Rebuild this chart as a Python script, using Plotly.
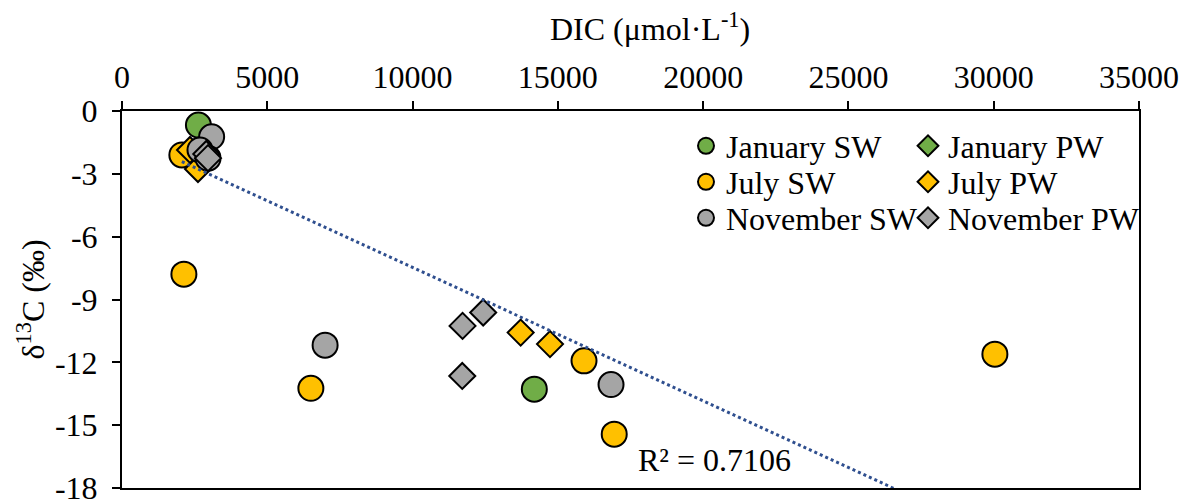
import plotly.graph_objects as go

# ---- data ----
jan_sw_x = [2630, 14190]
jan_sw_y = [-0.67, -13.28]
jan_pw_x = [2700]
jan_pw_y = [-2.0]
jul_sw_x = [2060, 2130, 6500, 15900, 16940, 30040]
jul_sw_y = [-2.10, -7.79, -13.24, -11.93, -15.43, -11.61]
jul_pw_x = [2340, 2615, 13720, 14730]
jul_pw_y = [-1.86, -2.77, -10.58, -11.13]
nov_sw_x = [3085, 2684, 2960, 6990, 16830]
nov_sw_y = [-1.23, -1.86, -2.25, -11.18, -13.06]
nov_pw_x = [2900, 2960, 11720, 12430, 11710]
nov_pw_y = [-2.05, -2.25, -10.26, -9.62, -12.65]

trend_slope = -0.000637
trend_intercept = -1.10
r2_label = "R² = 0.7106"

x_tickvals = [0, 5000, 10000, 15000, 20000, 25000, 30000, 35000]
x_ticktext = ["0", "5000", "10000", "15000", "20000", "25000", "30000", "35000"]
y_tickvals = [0, -3, -6, -9, -12, -15, -18]
y_ticktext = ["0", "-3", "-6", "-9", "-12", "-15", "-18"]

GREEN = "#70AD47"
YELLOW = "#FFC000"
GRAY = "#A5A5A5"
TREND = "#2F4F8F"
FONT = "Liberation Serif, Times New Roman, serif"
FS = 32

# plot-area geometry in pixels
L, R, T, B = 122, 1139, 111, 488
PW, PH = R - L, B - T

def px_x(p):
    return (p - L) / PW

def px_y(p):
    return (B - p) / PH

fig = go.Figure()

def add(xs, ys, name, color, symbol, legend):
    fig.add_trace(go.Scatter(
        x=xs, y=ys, mode="markers", name=name, legend=legend,
        marker=dict(color=color, symbol=symbol,
                    size=25 if symbol == "circle" else 20,
                    line=dict(color="black", width=2)),
    ))

add(jan_sw_x, jan_sw_y, "January SW", GREEN, "circle", "legend")
add(jan_pw_x, jan_pw_y, "January PW", GREEN, "diamond", "legend2")
add(jul_sw_x, jul_sw_y, "July SW", YELLOW, "circle", "legend3")
add(jul_pw_x, jul_pw_y, "July PW", YELLOW, "diamond", "legend4")
add(nov_sw_x, nov_sw_y, "November SW", GRAY, "circle", "legend5")
add(nov_pw_x, nov_pw_y, "November PW", GRAY, "diamond", "legend6")

all_x = jan_sw_x + jan_pw_x + jul_sw_x + jul_pw_x + nov_sw_x + nov_pw_x
tx = [min(all_x), max(all_x)]
ty = [trend_slope * v + trend_intercept for v in tx]
fig.add_trace(go.Scatter(x=tx, y=ty, mode="lines", showlegend=False,
                         line=dict(color=TREND, width=3, dash="dot")))

axis_common = dict(showgrid=False, zeroline=False, showline=True, linecolor="black",
                   linewidth=2, mirror=True, ticks="outside", ticklen=8, tickwidth=2,
                   tickcolor="black", ticklabeloverflow="allow", automargin=False,
                   tickfont=dict(family=FONT, size=FS, color="black"))

fig.update_xaxes(range=[0, 35000], side="top", tickvals=x_tickvals, ticktext=x_ticktext,
                 **axis_common)
fig.update_yaxes(range=[-18, 0], tickvals=y_tickvals, ticktext=y_ticktext,
                 ticklabelstandoff=8, **axis_common)

legend_common = dict(font=dict(family=FONT, size=FS, color="black"), bgcolor="rgba(0,0,0,0)",
                     yanchor="middle", xanchor="left", itemsizing="trace")
col1, col2 = 686, 908
rows = [146, 182, 218]
fig.update_layout(
    width=1188, height=499,
    margin=dict(l=L, r=1188 - R, t=T, b=499 - B, autoexpand=False),
    paper_bgcolor="white", plot_bgcolor="white",
    font=dict(family=FONT, size=FS, color="black"),
    legend=dict(x=px_x(col1), y=px_y(rows[0]), **legend_common),
    legend2=dict(x=px_x(col2), y=px_y(rows[0]), **legend_common),
    legend3=dict(x=px_x(col1), y=px_y(rows[1]), **legend_common),
    legend4=dict(x=px_x(col2), y=px_y(rows[1]), **legend_common),
    legend5=dict(x=px_x(col1), y=px_y(rows[2]), **legend_common),
    legend6=dict(x=px_x(col2), y=px_y(rows[2]), **legend_common),
    annotations=[
        dict(text="DIC (μmol·L<sup>-1</sup>)", xref="paper", yref="paper",
             x=px_x(650), y=px_y(27), xanchor="center", yanchor="middle",
             showarrow=False, font=dict(family=FONT, size=FS, color="black")),
        dict(text="δ<sup>13</sup>C (‰)", xref="paper", yref="paper",
             x=px_x(30), y=0.5, xanchor="center", yanchor="middle",
             textangle=-90, showarrow=False,
             font=dict(family=FONT, size=FS, color="black")),
        dict(text=r2_label, xref="paper", yref="paper",
             x=px_x(636), y=px_y(460), xanchor="left", yanchor="middle",
             showarrow=False, font=dict(family=FONT, size=FS, color="black")),
    ],
)

fig.write_html("out.html")
